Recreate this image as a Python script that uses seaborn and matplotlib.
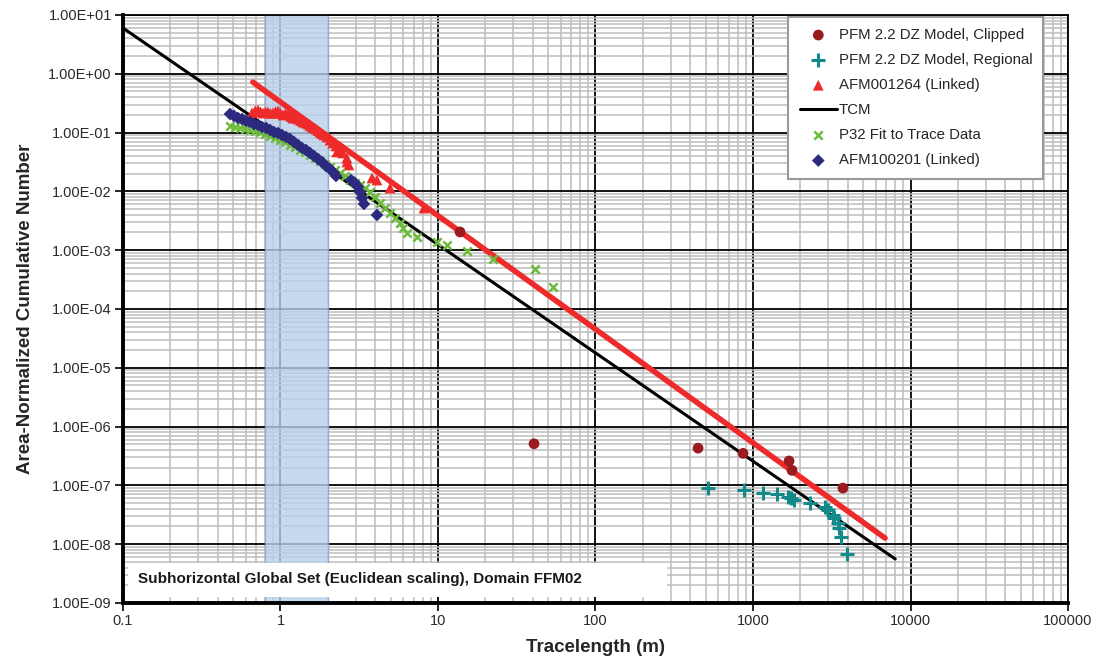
import numpy as np
import matplotlib
matplotlib.use('Agg')
import matplotlib.pyplot as plt
import seaborn as sns
from matplotlib.ticker import FixedLocator, FixedFormatter, LogLocator, NullFormatter
from matplotlib.patches import Rectangle

# ---------------- data ----------------
pfm_clipped_x = [13.8, 40.7, 448, 865, 1694, 1770, 3726]
pfm_clipped_y = [2.04e-3, 5.1e-7, 4.3e-7, 3.5e-7, 2.6e-7, 1.8e-7, 9.0e-8]

pfm_regional_x = [515, 881, 1153, 1414, 1675, 1743, 1829, 2301, 2866, 3006,
                  3207, 3265, 3450, 3532, 3606, 3970]
pfm_regional_y = [8.9e-8, 8.35e-8, 7.5e-8, 7.06e-8, 6.43e-8, 6.04e-8, 5.65e-8,
                  5.08e-8, 4.35e-8, 3.82e-8, 3.14e-8, 2.75e-8, 2.27e-8, 1.86e-8,
                  1.31e-8, 6.7e-9]

afm001264_x = [0.659, 0.690, 0.720, 0.747, 0.774, 0.803, 0.833, 0.864, 0.896,
               0.930, 0.964, 1.00, 1.037, 1.075, 1.116, 1.16, 1.20, 1.245, 1.29,
               1.34, 1.39, 1.445, 1.50, 1.54, 1.585, 1.63, 1.68, 1.73, 1.78,
               1.83, 1.89, 1.97, 2.06, 2.15, 2.25, 2.28, 2.39, 2.49, 2.64,
               2.64, 2.72, 3.81, 4.10, 4.96, 8.15]
afm001264_y = [0.216, 0.235, 0.242, 0.225, 0.215, 0.225, 0.224, 0.212, 0.215,
               0.228, 0.233, 0.212, 0.199, 0.210, 0.207, 0.188, 0.177, 0.178,
               0.170, 0.160, 0.151, 0.146, 0.140, 0.132, 0.1245, 0.120, 0.115,
               0.108, 0.102, 0.096, 0.091, 0.084, 0.0748, 0.0665, 0.0592,
               0.0468, 0.0506, 0.045, 0.037, 0.0316, 0.0281, 0.0169, 0.0156,
               0.0114, 0.0052]

tcm_x = [0.1, 8000]
tcm_y = [6.0, 5.6e-9]

afm001264_fit_x = [0.668, 6890]
afm001264_fit_y = [0.72, 1.27e-8]

p32_x = [0.478, 0.514, 0.553, 0.595, 0.640, 0.689, 0.741, 0.797, 0.858, 0.923,
         0.993, 1.068, 1.149, 1.236, 1.330, 1.431, 1.539, 1.656, 1.781, 1.917,
         2.062, 2.218, 2.387, 2.568, 2.763, 2.972, 3.197, 3.440, 3.701, 3.981,
         4.283, 4.608, 4.958, 5.333, 5.738, 5.995, 6.357, 7.357, 9.855, 11.41,
         15.28, 22.35, 41.29, 53.73]
p32_y = [0.1295, 0.1245, 0.1197, 0.1151, 0.1107, 0.1065, 0.1024, 0.0947,
         0.0876, 0.0810, 0.0748, 0.0692, 0.0615, 0.0569, 0.0506, 0.0468,
         0.0416, 0.0370, 0.0329, 0.0292, 0.0260, 0.0231, 0.0206, 0.0183,
         0.0156, 0.0139, 0.0128, 0.0114, 0.00977, 0.00803, 0.00635, 0.00522,
         0.00429, 0.00353, 0.00290, 0.00239, 0.00196, 0.00168, 0.00138,
         0.00123, 0.000969, 0.000709, 0.000479, 0.000237]

afm100201_x = [0.478, 0.507, 0.537, 0.570, 0.604, 0.640, 0.679, 0.720, 0.763,
               0.809, 0.858, 0.909, 0.964, 1.022, 1.084, 1.149, 1.218, 1.292,
               1.369, 1.452, 1.539, 1.632, 1.730, 1.834, 1.945, 2.062, 2.186,
               2.251, 2.804, 2.972, 3.105, 3.197, 3.292, 3.390, 4.100]
afm100201_y = [0.207, 0.192, 0.177, 0.170, 0.158, 0.152, 0.140, 0.135, 0.1245,
               0.120, 0.111, 0.102, 0.0985, 0.091, 0.0842, 0.0779, 0.0692,
               0.0615, 0.0547, 0.0506, 0.045, 0.040, 0.0356, 0.0316, 0.027,
               0.024, 0.0206, 0.0183, 0.0156, 0.0139, 0.0119, 0.00977, 0.00772,
               0.00611, 0.00397]

band_x = [0.8, 2.0]

x_ticks = [0.1, 1, 10, 100, 1000, 10000, 100000]
x_tick_labels = ['0.1', '1', '10', '100', '1000', '10000', '100000']
y_ticks = [1e-9, 1e-8, 1e-7, 1e-6, 1e-5, 1e-4, 1e-3, 1e-2, 1e-1, 1e0, 1e1]
y_tick_labels = ['1.00E-09', '1.00E-08', '1.00E-07', '1.00E-06', '1.00E-05',
                 '1.00E-04', '1.00E-03', '1.00E-02', '1.00E-01', '1.00E+00',
                 '1.00E+01']

annotation = 'Subhorizontal Global Set (Euclidean scaling), Domain FFM02'

# ---------------- style ----------------
sns.set_theme(style='white')
plt.rcParams['font.family'] = ['Liberation Sans', 'DejaVu Sans']

fig = plt.figure(figsize=(10.99, 6.6), dpi=100)
ax = fig.add_axes([0.1119, 0.0864, 0.8599, 0.8909])
ax.set_xscale('log')
ax.set_yscale('log')
ax.set_xlim(0.1, 1e5)
ax.set_ylim(1e-9, 1e1)

# grid
ax.xaxis.set_major_locator(FixedLocator(x_ticks))
ax.xaxis.set_major_formatter(FixedFormatter(x_tick_labels))
ax.yaxis.set_major_locator(FixedLocator(y_ticks))
ax.yaxis.set_major_formatter(FixedFormatter(y_tick_labels))
ax.xaxis.set_minor_locator(LogLocator(base=10, subs=np.arange(2, 10), numticks=100))
ax.yaxis.set_minor_locator(LogLocator(base=10, subs=np.arange(2, 10), numticks=100))
ax.xaxis.set_minor_formatter(NullFormatter())
ax.yaxis.set_minor_formatter(NullFormatter())
ax.set_axisbelow(True)
ax.grid(which='minor', color='#bdbdbd', lw=1.1)
ax.grid(which='major', color='black', lw=1.3)
ax.tick_params(which='minor', length=0)
ax.tick_params(which='major', length=6, width=1.2, direction='out', color='black',
               left=True, bottom=True, labelsize=10.5, labelcolor='#2a2a2a', pad=2)

# shaded band
ax.axvspan(band_x[0], band_x[1], facecolor='#b9d0ec', alpha=0.8,
           edgecolor='#8aa6c8', lw=1, zorder=1)

# series
sns.scatterplot(x=pfm_clipped_x, y=pfm_clipped_y, ax=ax, marker='o', s=60,
                color='#9b1c1f', edgecolor='none', label='PFM 2.2 DZ Model, Clipped', zorder=5)
sns.scatterplot(x=pfm_regional_x, y=pfm_regional_y, ax=ax, marker='+', s=90,
                color='#138a8a', linewidth=2.2, label='PFM 2.2 DZ Model, Regional', zorder=5)
sns.scatterplot(x=afm001264_x, y=afm001264_y, ax=ax, marker='^', s=60,
                color='#ee2a2a', edgecolor='none', label='AFM001264 (Linked)', zorder=4)
sns.lineplot(x=tcm_x, y=tcm_y, ax=ax, color='black', lw=2.2, label='TCM', zorder=3)
sns.scatterplot(x=p32_x, y=p32_y, ax=ax, marker='x', s=36,
                color='#6cbb3c', linewidth=1.8, label='P32 Fit to Trace Data', zorder=4)
sns.scatterplot(x=afm100201_x, y=afm100201_y, ax=ax, marker='D', s=42,
                color='#2c2a7e', edgecolor='none', label='AFM100201 (Linked)', zorder=4)
sns.lineplot(x=afm001264_fit_x, y=afm001264_fit_y, ax=ax, color='#ee2a2a', lw=4,
             zorder=3, legend=False)

# spines
for side in ['left', 'bottom']:
    ax.spines[side].set_linewidth(2.8)
    ax.spines[side].set_color('black')
for side in ['top', 'right']:
    ax.spines[side].set_linewidth(1.3)
    ax.spines[side].set_color('black')

ax.set_xlabel('Tracelength (m)', fontsize=13.5, fontweight='bold', labelpad=8)
ax.set_ylabel('Area-Normalized Cumulative Number', fontsize=13.5, fontweight='bold', labelpad=10)

# legend
handles, labels = ax.get_legend_handles_labels()
leg = ax.legend(handles, labels, loc='upper left', bbox_to_anchor=(0.704, 0.997),
                fontsize=10.8, frameon=True, fancybox=False, framealpha=1,
                edgecolor='#9a9a9a', labelspacing=0.74, handlelength=2.5,
                handletextpad=0.1, borderpad=0.75, borderaxespad=0)
leg.get_frame().set_linewidth(1.5)
leg.set_zorder(10)

# annotation box
ax.add_patch(Rectangle((0.005, 0.010), 0.571, 0.058, transform=ax.transAxes,
                       facecolor='white', edgecolor='none', zorder=6))
ax.text(0.016, 0.040, annotation, transform=ax.transAxes, fontsize=11,
        fontweight='bold', color='#1a1a1a', va='center', ha='left', zorder=7)

fig.savefig('out.png', dpi=100)
